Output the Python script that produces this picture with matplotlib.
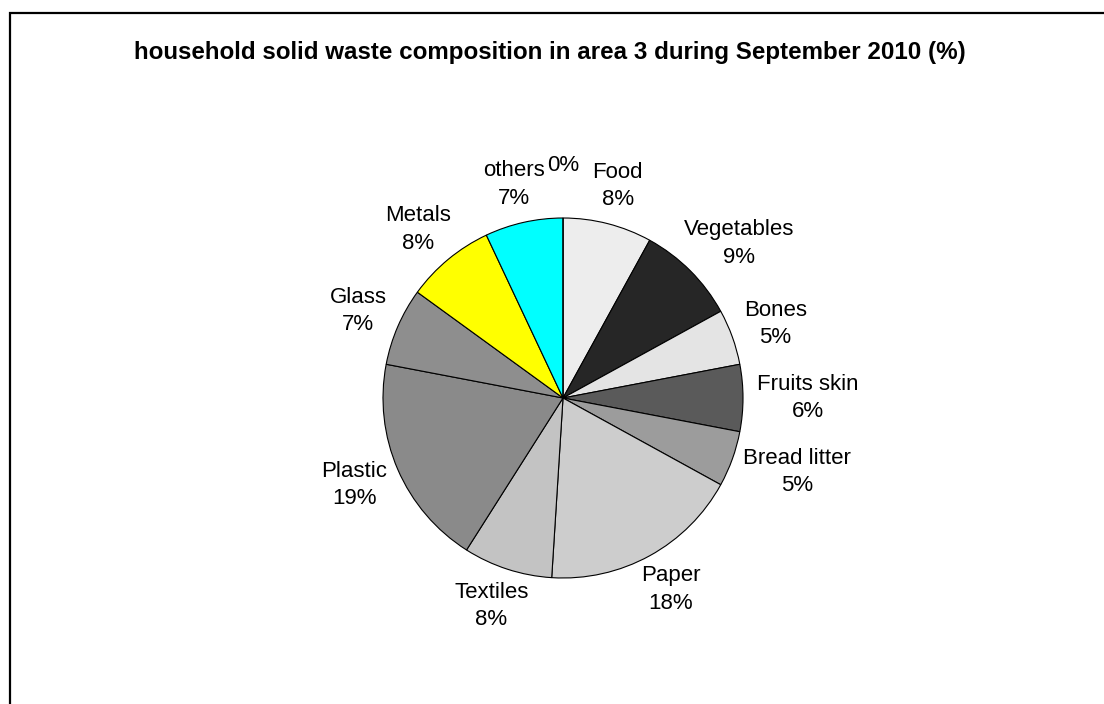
import numpy as np
import matplotlib
matplotlib.use("Agg")
import matplotlib.pyplot as plt

# ------------------------------------------------------------------ #
#  Data : household solid waste, area 3, September 2010 (%)
# ------------------------------------------------------------------ #
categories = ["Food", "Vegetables", "Bones", "Fruits skin", "Bread litter",
              "Paper", "Textiles", "Plastic", "Glass", "Metals", "others", ""]
shares = [8, 9, 5, 6, 5, 18, 8, 19, 7, 8, 7, 0]
slice_colors = ["#ededed", "#262626", "#e4e4e4", "#5a5a5a", "#9c9c9c",
                "#cdcdcd", "#c3c3c3", "#8a8a8a", "#8e8e8e", "#ffff00",
                "#00ffff", "#ffffff"]

TITLE = "household solid waste composition in area 3 during September 2010 (%)"

W, H = 1104, 704
plt.rcParams["font.family"] = ["Liberation Sans", "DejaVu Sans"]

fig = plt.figure(figsize=(W / 100, H / 100), dpi=100)
ax = fig.add_axes([0, 0, 1, 1])

# chart area frame (top and left edges visible)
ax.plot([9.5, 9.5, W + 5], [-5, H - 13, H - 13], color="black", lw=1.6,
        solid_joinstyle="miter", clip_on=False)

cx, cy, r = 563, H - 398, 180
wedges, _ = ax.pie(shares, colors=slice_colors, startangle=90,
                   counterclock=False, center=(cx, cy), radius=r,
                   wedgeprops=dict(edgecolor="black", linewidth=0.8),
                   frame=True)
ax.set_xlim(0, W)
ax.set_ylim(0, H)
ax.set_aspect("equal")
ax.axis("off")

ax.text(550, H - 52, TITLE, ha="center", va="center", fontsize=17.4,
        fontweight="bold")

# data labels: box pushed outward from a point just outside the rim
fig.canvas.draw()
renderer = fig.canvas.get_renderer()
total = sum(shares)
cum = 0
for name, val in zip(categories, shares):
    mid = (cum + val / 2) / total * 2 * np.pi
    cum += val
    label = f"{name}\n{val}%" if name else f"{val}%\n "
    sx, sy = np.sin(mid), np.cos(mid)
    px, py = cx + 1.08 * r * sx, cy + 1.08 * r * sy
    t = ax.text(px, py, label, ha="center", va="center", fontsize=16,
                linespacing=1.42, multialignment="center")
    bb = t.get_window_extent(renderer)
    t.set_position((px + sx * bb.width / 2, py + sy * bb.height / 2))

fig.savefig("out.png", dpi=100, facecolor="white")
